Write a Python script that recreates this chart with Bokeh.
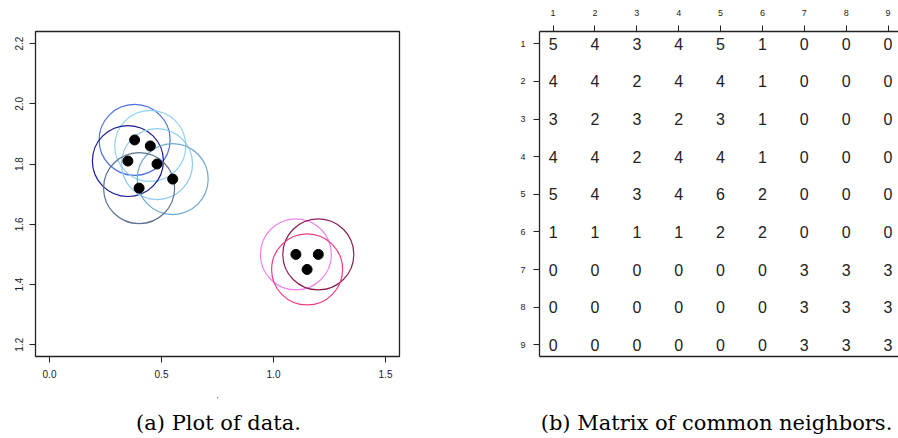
from bokeh.plotting import figure
from bokeh.layouts import row, column
from bokeh.models import Range1d, FixedTicker, LinearAxis, Label, ColumnDataSource
from bokeh.core.properties import value
from bokeh.embed import file_html
from bokeh.resources import INLINE

# ---- data: panel (a) ----
x_pts = [0.38, 0.45, 0.35, 0.48, 0.55, 0.40, 1.10, 1.20, 1.15]
y_pts = [1.88, 1.86, 1.81, 1.80, 1.75, 1.72, 1.50, 1.50, 1.45]
ring_colors = ["#4a6fe0", "#8fd0fa", "#1a1a96", "#8ccaf0", "#6fa8d2",
               "#5a7290", "#f084ec", "#8b1f55", "#ec3c86"]
x_ticks = [0.0, 0.5, 1.0, 1.5]
y_ticks = [1.2, 1.4, 1.6, 1.8, 2.0, 2.2]

# ---- data: panel (b) ----
matrix = [
    [5, 4, 3, 4, 5, 1, 0, 0, 0],
    [4, 4, 2, 4, 4, 1, 0, 0, 0],
    [3, 2, 3, 2, 3, 1, 0, 0, 0],
    [4, 4, 2, 4, 4, 1, 0, 0, 0],
    [5, 4, 3, 4, 6, 2, 0, 0, 0],
    [1, 1, 1, 1, 2, 2, 0, 0, 0],
    [0, 0, 0, 0, 0, 0, 3, 3, 3],
    [0, 0, 0, 0, 0, 0, 3, 3, 3],
    [0, 0, 0, 0, 0, 0, 3, 3, 3],
]
idx = [1, 2, 3, 4, 5, 6, 7, 8, 9]

caption_a = "(a) Plot of data."
caption_b = "(b) Matrix of common neighbors."

SANS = "Liberation Sans"
SERIF = "DejaVu Serif"

W1, W2, H_TOP, H_CAP = 470, 428, 408, 30

# ---------------- panel (a) ----------------
xr = Range1d(-0.0625, 1.5625)
yr = Range1d(1.161, 2.24)
p1 = figure(width=W1, height=H_TOP, x_range=xr, y_range=yr,
            output_backend="svg", toolbar_location=None,
            min_border_left=35, min_border_right=71,
            min_border_top=31, min_border_bottom=52,
            x_axis_location="below", y_axis_location="left")
p1.grid.visible = False
p1.outline_line_color = "#222222"
p1.outline_line_width = 1.3
p1.background_fill_color = "white"
p1.border_fill_color = "white"

for ax in [p1.xaxis[0], p1.yaxis[0]]:
    ax.axis_line_color = None
    ax.minor_tick_line_color = None
    ax.major_tick_in = 0
    ax.major_tick_out = 6
    ax.major_tick_line_color = "#222222"
    ax.major_label_text_font = SANS
    ax.major_label_text_font_size = "10px"
    ax.major_label_text_color = "#222222"
p1.xaxis[0].ticker = FixedTicker(ticks=x_ticks)
p1.xaxis[0].major_label_overrides = {t: f"{t:.1f}" for t in x_ticks}
p1.xaxis[0].major_label_standoff = 7
p1.xaxis[0].axis_label = "'"
p1.xaxis[0].axis_label_text_font = SANS
p1.xaxis[0].axis_label_text_font_style = "normal"
p1.xaxis[0].axis_label_text_font_size = "8px"
p1.xaxis[0].axis_label_text_color = "#222222"
p1.xaxis[0].axis_label_standoff = 14
p1.yaxis[0].ticker = FixedTicker(ticks=y_ticks)
p1.yaxis[0].major_label_overrides = {t: f"{t:.1f}" for t in y_ticks}
p1.yaxis[0].major_label_orientation = "vertical"
p1.yaxis[0].major_label_standoff = 6

src = ColumnDataSource(dict(x=x_pts, y=y_pts, c=ring_colors))
p1.scatter("x", "y", source=src, marker="circle", size=71,
           fill_color=None, line_color="c", line_width=1.2)
p1.scatter("x", "y", source=src, marker="circle", size=10,
           fill_color="black", line_color="black")

# ---------------- panel (b) ----------------
xr2 = Range1d(0.675, 9.25)
yr2 = Range1d(9.31, 0.673)
p2 = figure(width=W2, height=H_TOP, x_range=xr2, y_range=yr2,
            output_backend="svg", toolbar_location=None,
            min_border_left=69, min_border_right=0,
            min_border_top=31, min_border_bottom=52,
            x_axis_location="above", y_axis_location="left")
p2.grid.visible = False
p2.outline_line_color = None
p2.background_fill_color = "white"
p2.border_fill_color = "white"

for ax in [p2.xaxis[0], p2.yaxis[0]]:
    ax.ticker = FixedTicker(ticks=idx)
    ax.axis_line_color = "#222222"
    ax.axis_line_width = 1.3
    ax.minor_tick_line_color = None
    ax.major_tick_in = 0
    ax.major_tick_out = 6
    ax.major_tick_line_color = "#222222"
    ax.major_label_text_font = SANS
    ax.major_label_text_font_size = "9px"
    ax.major_label_text_color = "#222222"
p2.xaxis[0].major_label_standoff = 10
p2.yaxis[0].major_label_standoff = 8

bottom = LinearAxis(ticker=FixedTicker(ticks=[]), axis_line_color="#222222",
                    axis_line_width=1.3, major_label_text_font_size="0px",
                    major_tick_line_color=None, minor_tick_line_color=None)
p2.add_layout(bottom, "below")

cx, cy, ct = [], [], []
for r, rowvals in zip(idx, matrix):
    for c, v in zip(idx, rowvals):
        cx.append(c)
        cy.append(r)
        ct.append(str(v))
p2.text(x=cx, y=cy, text=ct, text_font=value(SANS), text_font_size="16px",
        text_align="center", text_baseline="middle", text_color="#222222")


# ---------------- captions ----------------
def caption_fig(width, text, cx_px):
    c = figure(width=width, height=H_CAP, x_range=Range1d(0, width),
               y_range=Range1d(0, H_CAP), output_backend="svg",
               toolbar_location=None, min_border=0)
    c.axis.visible = False
    c.grid.visible = False
    c.outline_line_color = None
    c.background_fill_color = "white"
    c.border_fill_color = "white"
    c.add_layout(Label(x=cx_px, y=H_CAP - 14, text=text, text_font=SERIF,
                       text_font_size="21px", text_align="center",
                       text_baseline="middle", text_color="black"))
    return c


c1 = caption_fig(W1, caption_a, 218)
c2 = caption_fig(W2, caption_b, 246)

layout = column(row(p1, p2), row(c1, c2))
open("out.html", "w").write(file_html(layout, INLINE))
